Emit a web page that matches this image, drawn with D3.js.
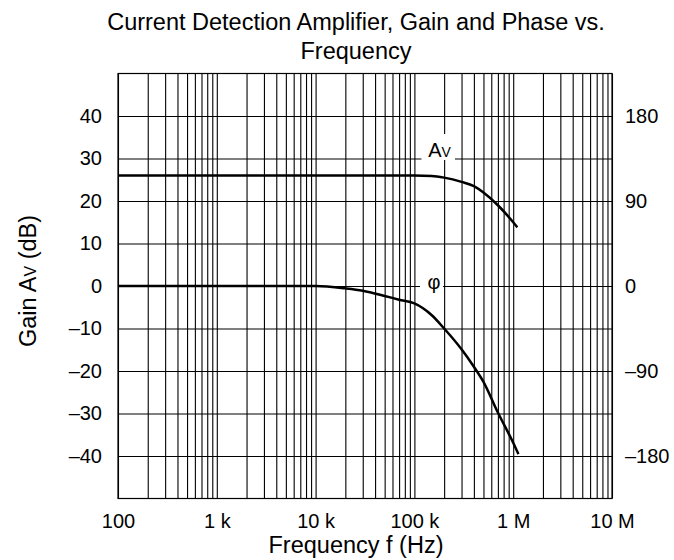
<!DOCTYPE html>
<html><head><meta charset="utf-8">
<script src="https://cdn.jsdelivr.net/npm/d3@7"></script>
<style>
body{margin:0;background:#fff;}
text{font-family:"Liberation Sans",Arial,sans-serif;fill:#000;}
</style></head>
<body>
<svg id="c" width="674" height="560"></svg>
<script>
// Data
const freqGain = [100, 1000, 10000, 50000, 100000, 150000, 200000, 300000, 400000, 500000, 700000, 1000000, 1100000];
const gainDb   = [26, 26, 26, 26, 26, 25.9, 25.5, 24.5, 23.5, 22.0, 19.0, 15.0, 13.8];
const freqPhase = [100, 1000, 10000, 20000, 30000, 50000, 70000, 100000, 150000, 200000, 300000, 400000, 500000, 700000, 1000000, 1130000];
const phaseDeg  = [0, 0, 0, -2.5, -5, -10.5, -14.5, -18.5, -31, -45, -67, -85.5, -101.5, -134, -166, -178];
const decadeTicks = [100, 1e3, 1e4, 1e5, 1e6, 1e7];
const decadeLabels = ["100", "1 k", "10 k", "100 k", "1 M", "10 M"];
const gainTicks = [-40, -30, -20, -10, 0, 10, 20, 30, 40];
const phaseTicks = [-180, -90, 0, 90, 180];

const svg = d3.select("#c");
const L = 118, R = 612, T = 73.5, B = 498.5;
const x = d3.scaleLog().domain([100, 1e7]).range([L, R]);
const y = d3.scaleLinear().domain([-50, 50]).range([B, T]);
const yp = d3.scaleLinear().domain([-225, 225]).range([B, T]);

const fmtMinus = s => String(s).replace("-", "\u2013");
const FONT = "Liberation Sans, Arial, sans-serif";

// minor grid values
const minor = [];
for (let e = 2; e <= 6; e++) for (let k = 1; k <= 9; k++) minor.push(k * Math.pow(10, e));
minor.push(1e7);

const g = svg.append("g");
// vertical grid
g.append("g").attr("transform", `translate(0,${B})`)
  .call(d3.axisBottom(x).tickValues(minor).tickSize(-(B - T)).tickFormat(""))
  .call(a => a.select(".domain").remove())
  .selectAll("line").attr("stroke", "#000").attr("stroke-width", 1.1);
// horizontal grid
g.append("g").attr("transform", `translate(${L},0)`)
  .call(d3.axisLeft(y).tickValues(gainTicks).tickSize(-(R - L)).tickFormat(""))
  .call(a => a.select(".domain").remove())
  .selectAll("line").attr("stroke", "#000").attr("stroke-width", 1.1);
// border
g.append("rect").attr("x", L).attr("y", T).attr("width", R - L).attr("height", B - T)
  .attr("fill", "none").attr("stroke", "#000").attr("stroke-width", 1.2);

// x labels
const xa = svg.append("g").attr("transform", `translate(0,${B})`)
  .call(d3.axisBottom(x).tickValues(decadeTicks).tickSize(0).tickPadding(15.5)
    .tickFormat((d, i) => decadeLabels[i]));
xa.select(".domain").remove();
xa.selectAll("text").attr("font-size", 20).attr("font-family", FONT);

// left labels
const ya = svg.append("g").attr("transform", `translate(${L},0)`)
  .call(d3.axisLeft(y).tickValues(gainTicks).tickSize(0).tickPadding(16).tickFormat(fmtMinus));
ya.select(".domain").remove();
ya.selectAll("text").attr("font-size", 20).attr("font-family", FONT);

// right labels
const yr = svg.append("g").attr("transform", `translate(${R},0)`)
  .call(d3.axisRight(yp).tickValues(phaseTicks).tickSize(0).tickPadding(13).tickFormat(fmtMinus));
yr.select(".domain").remove();
yr.selectAll("text").attr("font-size", 20).attr("font-family", FONT);

// curves
const lineG = d3.line().x((d, i) => x(freqGain[i])).y(d => y(d)).curve(d3.curveMonotoneX);
const lineP = d3.line().x((d, i) => x(freqPhase[i])).y(d => yp(d)).curve(d3.curveMonotoneX);
svg.append("path").attr("d", lineG(gainDb)).attr("fill", "none").attr("stroke", "#000").attr("stroke-width", 2.5);
svg.append("path").attr("d", lineP(phaseDeg)).attr("fill", "none").attr("stroke", "#000").attr("stroke-width", 2.5);

// curve labels
function box(x0, y0, x1, y1) {
  svg.append("rect").attr("x", x0).attr("y", y0).attr("width", x1 - x0).attr("height", y1 - y0).attr("fill", "#fff");
}
box(421.5, 134, 455, 160);
const tAv = svg.append("text").attr("x", 439.5).attr("y", 157).attr("text-anchor", "middle").attr("font-size", 20);
tAv.append("tspan").text("A");
tAv.append("tspan").attr("font-size", 14).text("V");
box(420, 275, 443, 296);
svg.append("text").attr("x", 434).attr("y", 288.5).attr("text-anchor", "middle").attr("font-size", 20).text("φ");

// titles
svg.append("text").attr("x", 356).attr("y", 30).attr("text-anchor", "middle").attr("font-size", 23.5)
  .text("Current Detection Amplifier, Gain and Phase vs.");
svg.append("text").attr("x", 356).attr("y", 59).attr("text-anchor", "middle").attr("font-size", 23.5)
  .text("Frequency");
svg.append("text").attr("x", 356).attr("y", 553).attr("text-anchor", "middle").attr("font-size", 23.5)
  .text("Frequency f (Hz)");
const yt = svg.append("text").attr("transform", "translate(36,281) rotate(-90)").attr("text-anchor", "middle").attr("font-size", 23.5);
yt.append("tspan").text("Gain A");
yt.append("tspan").attr("font-size", 16).text("V");
yt.append("tspan").text(" (dB)");
</script>
</body></html>
